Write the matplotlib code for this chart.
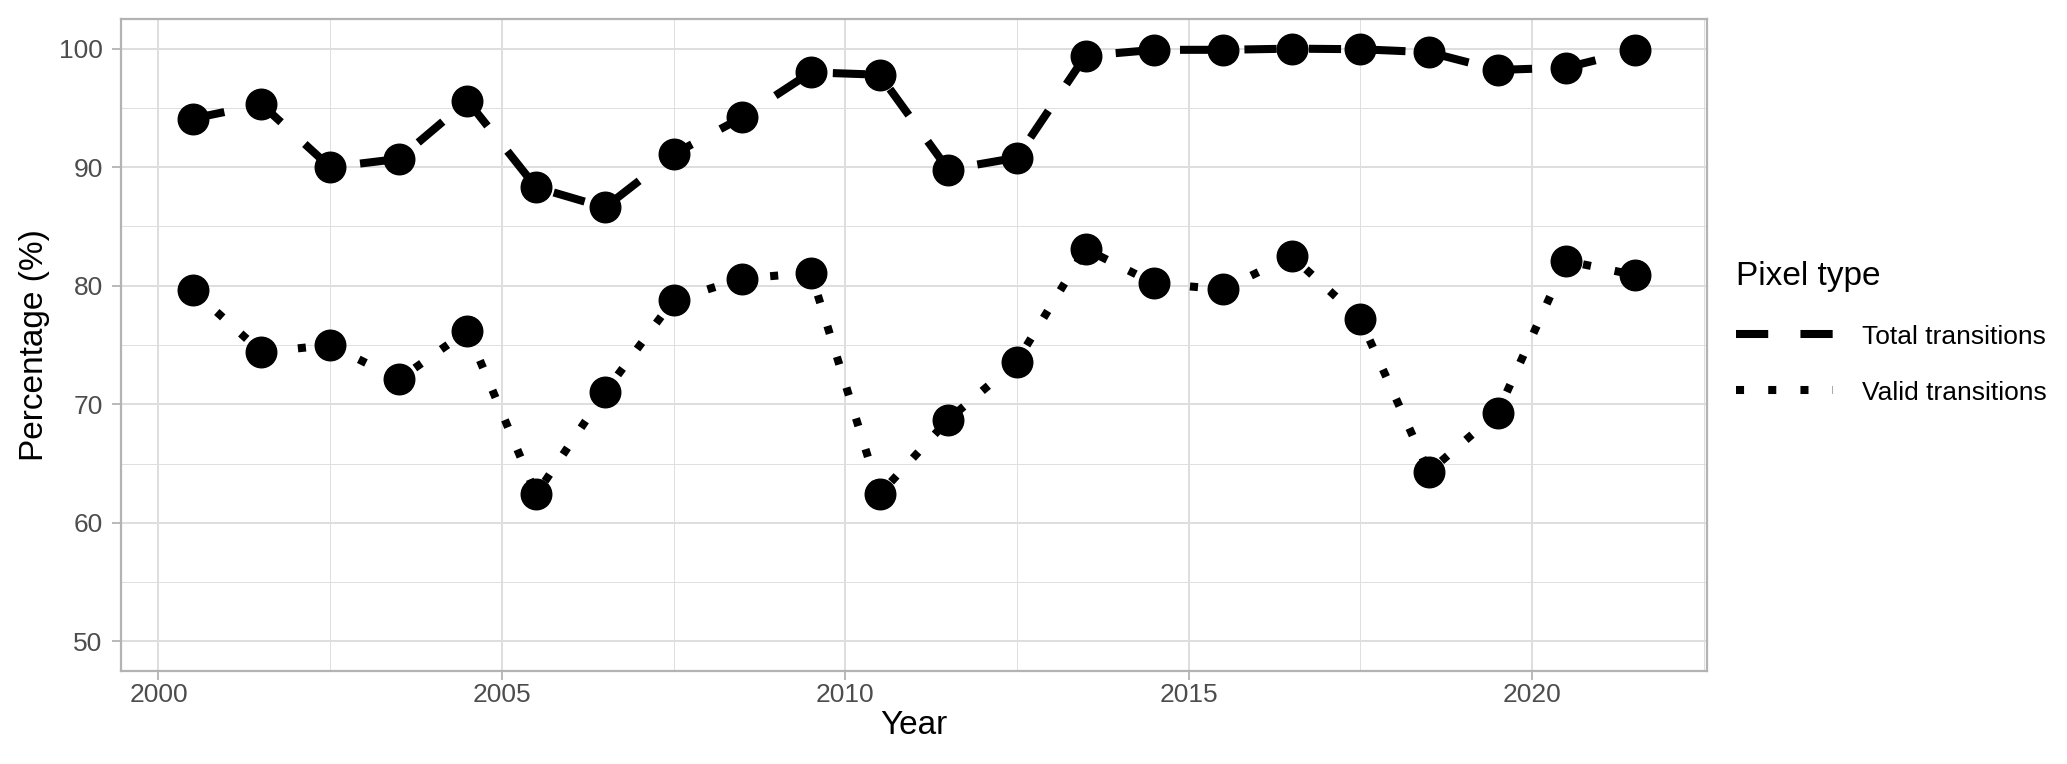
import matplotlib
matplotlib.use("Agg")
import matplotlib.pyplot as plt
from matplotlib.ticker import FixedLocator

plt.rcParams['font.family'] = ['Liberation Sans', 'DejaVu Sans']

years = [2000.5, 2001.5, 2002.5, 2003.5, 2004.5, 2005.5, 2006.5, 2007.5, 2008.5, 2009.5, 2010.5,
         2011.5, 2012.5, 2013.5, 2014.5, 2015.5, 2016.5, 2017.5, 2018.5, 2019.5, 2020.5, 2021.5]
total_transitions = [94.1, 95.3, 90.0, 90.7, 95.6, 88.3, 86.6, 91.1, 94.2, 98.0, 97.8,
                     89.8, 90.8, 99.4, 99.9, 99.9, 100.0, 99.95, 99.7, 98.2, 98.4, 99.85]
valid_transitions = [79.6, 74.4, 75.0, 72.1, 76.2, 62.4, 71.0, 78.8, 80.6, 81.1, 62.4,
                     68.7, 73.6, 83.1, 80.2, 79.7, 82.5, 77.2, 64.3, 69.3, 82.1, 80.9]
series_labels = ["Total transitions", "Valid transitions"]
legend_title = "Pixel type"
x_ticks = [2000, 2005, 2010, 2015, 2020]
y_ticks = [50, 60, 70, 80, 90, 100]

W, H = 2067, 764
fig = plt.figure(figsize=(W / 100, H / 100), dpi=100)
ax = fig.add_axes([120.7 / W, 1 - 671 / H, (1707 - 120.7) / W, (671 - 19) / H])

lw = 5.8
ms = 22
l1, = ax.plot(years, total_transitions, color='black', lw=lw, linestyle=(0, (4, 4)),
              dash_capstyle='butt', label=series_labels[0], zorder=3)
l2, = ax.plot(years, valid_transitions, color='black', lw=lw, linestyle=(0, (1, 3)),
              dash_capstyle='butt', label=series_labels[1], zorder=3)
ax.plot(years, total_transitions, 'o', color='black', ms=ms, ls='none', zorder=4)
ax.plot(years, valid_transitions, 'o', color='black', ms=ms, ls='none', zorder=4)

xr = years[-1] - years[0]
ax.set_xlim(years[0] - 0.05 * xr, years[-1] + 0.05 * xr)
ax.set_ylim(50 - 2.5, 100 + 2.5)

ax.xaxis.set_major_locator(FixedLocator(x_ticks))
ax.yaxis.set_major_locator(FixedLocator(y_ticks))
ax.xaxis.set_minor_locator(FixedLocator([2002.5, 2007.5, 2012.5, 2017.5, 2022.5]))
ax.yaxis.set_minor_locator(FixedLocator([55, 65, 75, 85, 95]))

ax.grid(which='major', color='#DEDEDE', lw=1.4, zorder=0)
ax.grid(which='minor', color='#DEDEDE', lw=0.7, zorder=0)
ax.set_axisbelow(True)
for s in ax.spines.values():
    s.set_color('#B3B3B3')
    s.set_linewidth(1.6)

ax.tick_params(which='major', length=6.5, width=1.3, color='#B3B3B3', labelsize=19,
               labelcolor='#4D4D4D')
ax.tick_params(axis='x', which='major', pad=2)
ax.tick_params(axis='y', which='major', pad=6.5)
ax.tick_params(which='minor', length=0)

ax.set_xlabel("Year", fontsize=24, color='black', labelpad=2)
ax.set_ylabel("Percentage (%)", fontsize=24, color='black', labelpad=6.5)

leg = fig.legend(handles=[l1, l2], title=legend_title, loc='center left',
                 bbox_to_anchor=(1712 / W, 1 - 333 / H), frameon=False,
                 fontsize=19, title_fontsize=24, handlelength=3.67, handletextpad=1.1,
                 labelspacing=1.22, alignment='left')

fig.savefig("out.png", dpi=100, facecolor='white')
